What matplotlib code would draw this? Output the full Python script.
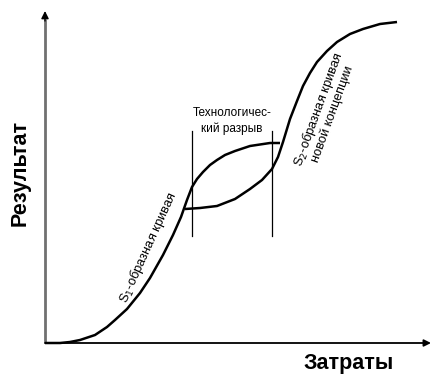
import numpy as np
import matplotlib.pyplot as plt

plt.rcParams['font.family'] = ['Liberation Sans', 'DejaVu Sans']

# S1-образная кривая (затраты, результат)
s1_cost = [0, 15, 25, 35, 50, 62, 70, 82, 95, 105, 118, 128, 136, 142, 147, 152, 158, 165, 172, 180, 190, 205, 225, 235]
s1_res = [0, 0, 1, 3, 8, 16, 23, 34, 50, 65, 88, 108, 126, 143, 156, 164, 171, 178, 183, 188, 192, 197, 200, 200]

# S2-образная кривая новой концепции
s2_cost = [140, 155, 172, 190, 205, 217, 227, 233, 238, 245, 252, 258, 265, 272, 282, 292, 305, 318, 335, 352]
s2_res = [134, 135, 137, 144, 154, 163, 174, 186, 201, 224, 242, 257, 270, 281, 292, 301, 309, 314, 319, 321]

# технологический разрыв
gap_x = [147, 227]
gap_y = [107, 212]

fig = plt.figure(figsize=(4.33, 3.78), dpi=100)
ax = fig.add_axes([0, 0, 1, 1])
ax.set_xlim(-45, 388)
ax.set_ylim(-35, 343)
ax.axis('off')

# оси со стрелками
ax.plot([0, 0], [0, 324], color='#707070', lw=2, solid_capstyle='butt')
ax.annotate('', xy=(0, 332), xytext=(0, 322),
            arrowprops=dict(arrowstyle='-|>', color='black', lw=1,
                            mutation_scale=11, shrinkA=0, shrinkB=0))
ax.annotate('', xy=(386, 0), xytext=(0, 0),
            arrowprops=dict(arrowstyle='-|>', color='black', lw=1.3,
                            mutation_scale=10, shrinkA=0, shrinkB=0))

for gx in gap_x:
    ax.plot([gx, gx], gap_y, color='black', lw=0.9)

ax.plot(s1_cost, s1_res, color='black', lw=1.8, solid_capstyle='butt')
ax.plot(s2_cost, s2_res, color='black', lw=1.8, solid_capstyle='butt')

ax.text(187, 222, 'Технологичес-\nкий разрыв', ha='center', va='center',
        fontsize=8.5, linespacing=1.35)
ax.text(103, 95, 'S$_1$-образная кривая', ha='center', va='center',
        fontsize=9.3, rotation=65.5)
ax.text(280, 232, 'S$_2$-образная кривая\nновой концепции', ha='center', va='center',
        fontsize=9.3, rotation=70, linespacing=1.0)

ax.text(304, -20, 'Затраты', ha='center', va='center', fontsize=15.5, fontweight='bold')
ax.text(-25, 170, 'Результат', ha='center', va='center', fontsize=15.5,
        fontweight='bold', rotation=90)

fig.savefig('out.png', dpi=100)
